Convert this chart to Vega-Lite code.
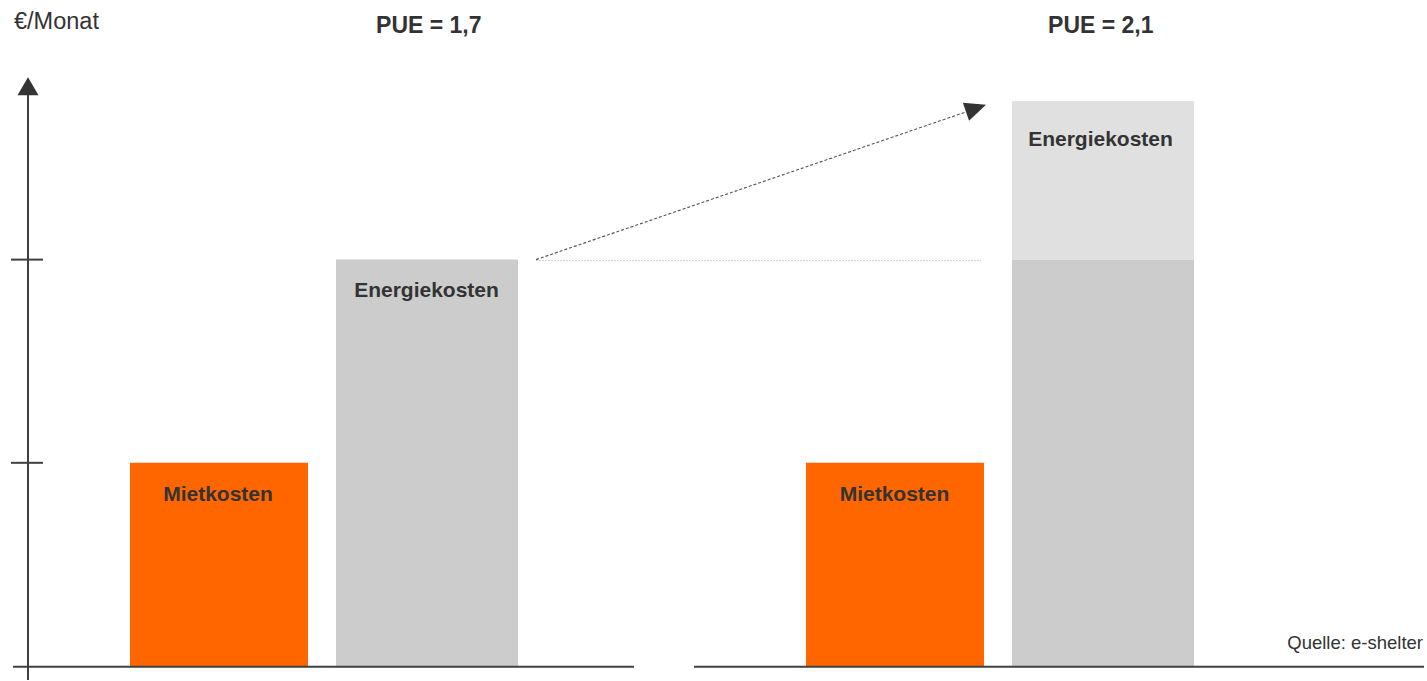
{
  "$schema": "https://vega.github.io/schema/vega-lite/v6.json",
  "autosize": {"type": "fit", "contains": "padding"},
  "width": 1427,
  "height": 681,
  "padding": 0,
  "background": "white",
  "view": {"stroke": null},
  "config": {"font": "Liberation Sans"},
  "datasets": {
    "kosten": [
      {"pue": "1,7", "kosten": "Mietkosten", "x": 130, "x2": 308, "y0": 0, "y1": 1},
      {"pue": "1,7", "kosten": "Energiekosten", "x": 336, "x2": 518, "y0": 0, "y1": 2},
      {"pue": "2,1", "kosten": "Mietkosten", "x": 806, "x2": 984, "y0": 0, "y1": 1},
      {"pue": "2,1", "kosten": "Energiekosten", "x": 1012, "x2": 1194, "y0": 0, "y1": 2},
      {"pue": "2,1", "kosten": "Mehrkosten", "x": 1012, "x2": 1194, "y0": 2, "y1": 2.781}
    ],
    "achsen": [
      {"teil": "y-Achse", "x": 28, "x2": 28, "y": -0.0688, "y2": 2.84},
      {"teil": "Marke 1", "x": 11, "x2": 43, "y": 1, "y2": 1},
      {"teil": "Marke 2", "x": 11, "x2": 43, "y": 2, "y2": 2},
      {"teil": "Basis links", "x": 13, "x2": 634, "y": -0.004, "y2": -0.004},
      {"teil": "Basis rechts", "x": 694, "x2": 1424, "y": -0.004, "y2": -0.004}
    ],
    "bold": [
      {"text": "Mietkosten", "x": 218, "y": 0.812},
      {"text": "Energiekosten", "x": 426.5, "y": 1.815},
      {"text": "Mietkosten", "x": 894.5, "y": 0.812},
      {"text": "Energiekosten", "x": 1100.5, "y": 2.56}
    ],
    "titel": [
      {"text": "PUE = 1,7", "x": 428.8, "y": 3.116},
      {"text": "PUE = 2,1", "x": 1100.8, "y": 3.116}
    ]
  },
  "layer": [
    {
      "data": {"name": "kosten"},
      "mark": {"type": "rect"},
      "encoding": {
        "x": {"field": "x", "type": "quantitative", "scale": {"domain": [0, 1427], "nice": false, "zero": false}, "axis": null},
        "x2": {"field": "x2"},
        "y": {"field": "y0", "type": "quantitative", "scale": {"domain": [-0.0688, 3.2776], "nice": false, "zero": false}, "axis": null},
        "y2": {"field": "y1"},
        "color": {
          "field": "kosten",
          "type": "nominal",
          "scale": {"domain": ["Mietkosten", "Energiekosten", "Mehrkosten"], "range": ["#FF6600", "#CCCCCC", "#E0E0E0"]},
          "legend": null
        }
      }
    },
    {
      "data": {"values": [{"x": 536, "x2": 981, "y": 1.995}]},
      "mark": {"type": "rule", "color": "#CFCFCF", "strokeWidth": 1, "strokeDash": [2, 1]},
      "encoding": {
        "x": {"field": "x", "type": "quantitative"},
        "x2": {"field": "x2"},
        "y": {"field": "y", "type": "quantitative"}
      }
    },
    {
      "data": {"values": [{"x": 536, "y": 2.0, "x2": 966, "y2": 2.727}]},
      "mark": {"type": "rule", "color": "#555555", "strokeWidth": 1.1, "strokeDash": [3, 2]},
      "encoding": {
        "x": {"field": "x", "type": "quantitative"},
        "x2": {"field": "x2"},
        "y": {"field": "y", "type": "quantitative"},
        "y2": {"field": "y2"}
      }
    },
    {
      "data": {"values": [{"x": 976, "y": 2.745}]},
      "mark": {"type": "point", "shape": "M1,0L-1,-0.9L-1,0.9Z", "size": 450, "angle": -18.9, "filled": true, "color": "#333333", "opacity": 1},
      "encoding": {
        "x": {"field": "x", "type": "quantitative"},
        "y": {"field": "y", "type": "quantitative"}
      }
    },
    {
      "data": {"name": "achsen"},
      "mark": {"type": "rule", "color": "#404040", "strokeWidth": 2},
      "encoding": {
        "x": {"field": "x", "type": "quantitative"},
        "x2": {"field": "x2"},
        "y": {"field": "y", "type": "quantitative"},
        "y2": {"field": "y2"}
      }
    },
    {
      "data": {"values": [{"x": 28, "y": 2.853}]},
      "mark": {"type": "point", "shape": "triangle-up", "size": 441, "filled": true, "color": "#333333", "opacity": 1},
      "encoding": {
        "x": {"field": "x", "type": "quantitative"},
        "y": {"field": "y", "type": "quantitative"}
      }
    },
    {
      "data": {"name": "bold"},
      "mark": {"type": "text", "font": "Liberation Sans", "fontSize": 21, "fontWeight": "bold", "color": "#333333", "align": "center", "baseline": "alphabetic"},
      "encoding": {
        "x": {"field": "x", "type": "quantitative"},
        "y": {"field": "y", "type": "quantitative"},
        "text": {"field": "text"}
      }
    },
    {
      "data": {"name": "titel"},
      "mark": {"type": "text", "font": "Liberation Sans", "fontSize": 23, "fontWeight": "bold", "color": "#333333", "align": "center", "baseline": "alphabetic"},
      "encoding": {
        "x": {"field": "x", "type": "quantitative"},
        "y": {"field": "y", "type": "quantitative"},
        "text": {"field": "text"}
      }
    },
    {
      "data": {"values": [{"text": "€/Monat", "x": 14, "y": 3.134}]},
      "mark": {"type": "text", "font": "Liberation Sans", "fontSize": 23.5, "color": "#333333", "align": "left", "baseline": "alphabetic"},
      "encoding": {
        "x": {"field": "x", "type": "quantitative"},
        "y": {"field": "y", "type": "quantitative"},
        "text": {"field": "text"}
      }
    },
    {
      "data": {"values": [{"text": "Quelle: e-shelter", "x": 1423, "y": 0.086}]},
      "mark": {"type": "text", "font": "Liberation Sans", "fontSize": 18.5, "color": "#333333", "align": "right", "baseline": "alphabetic"},
      "encoding": {
        "x": {"field": "x", "type": "quantitative"},
        "y": {"field": "y", "type": "quantitative"},
        "text": {"field": "text"}
      }
    }
  ]
}
